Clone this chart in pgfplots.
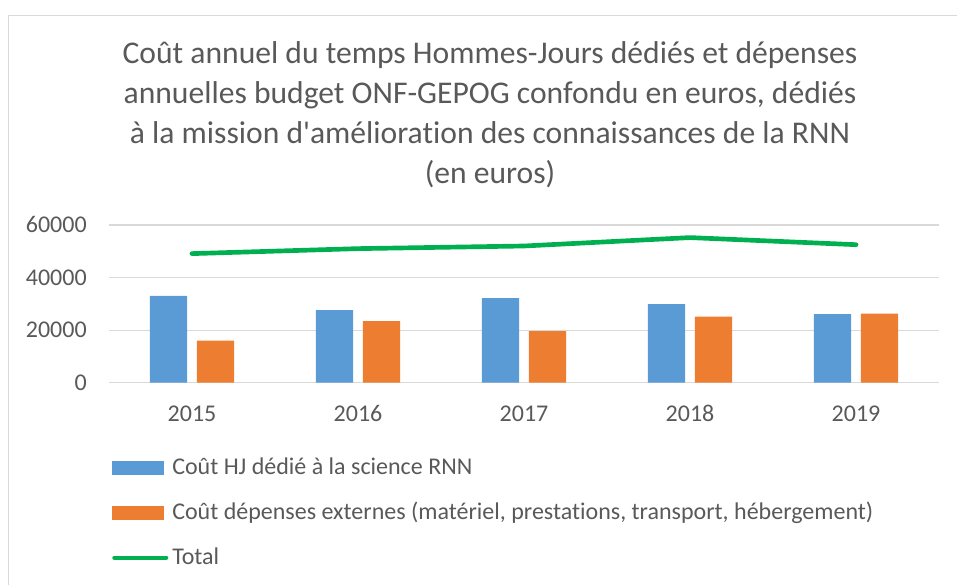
\documentclass[border=0pt]{standalone}
\usepackage{fontspec}
\setmainfont{Carlito}
\newfontfamily\calfont{Carlito}[Ligatures=NoCommon]
\usepackage{pgfplots}
\pgfplotsset{compat=1.18}
\usetikzlibrary{calc}
\definecolor{txt}{HTML}{595959}
\definecolor{gridc}{HTML}{D9D9D9}
\definecolor{blueC}{HTML}{5B9BD5}
\definecolor{orangeC}{HTML}{ED7D31}
\definecolor{greenC}{HTML}{00B050}

\begin{document}
\begin{tikzpicture}[x=0.75pt,y=0.75pt]
\begin{axis}[
  name=ax, at={(0,0)}, anchor=south west,
  scale only axis, width=622.5pt, height=118.3pt,
  xmin=-0.5, xmax=4.5, ymin=0, ymax=60000,
  axis line style={draw=none},
  xtick={0,1,2,3,4}, xticklabels={2015,2016,2017,2018,2019},
  ytick={0,20000,40000,60000},
  ymajorgrids, grid style={gridc, line width=0.9pt},
  major tick length=0pt,
  scaled y ticks=false,
  /pgf/number format/assume math mode=true,
  /pgf/number format/1000 sep={},
  tick label style={font=\calfont\fontsize{18}{20}\selectfont, text=txt, inner sep=0pt},
  xticklabel style={text height=11.6pt, text depth=0pt},
  yticklabel shift=16.5pt,
  xticklabel shift=17pt,
  clip=false,
  legend style={at={(axis description cs:0.0036,-0.48)}, anchor=north west,
    draw=none, fill=none, inner sep=0pt, row sep=17.75pt, column sep=3pt,
    font=\calfont\fontsize{18}{20}\selectfont, text=txt,
    nodes={inner sep=0pt, text height=12pt, text depth=4pt}},
  legend cell align=left,
]
\addplot[ybar, bar width=28pt, bar shift=-17.6pt, fill=blueC, draw=none,
  legend image code/.code={\fill[blueC] (0pt,-3.95pt) rectangle (39pt,6.55pt);}]
  coordinates {(0,33030) (1,27580) (2,32150) (3,29870) (4,26060)};
\addlegendentry{Coût HJ dédié à la science RNN}
\addplot[ybar, bar width=28pt, bar shift=17.6pt, fill=orangeC, draw=none,
  legend image code/.code={\fill[orangeC] (0pt,-3.95pt) rectangle (39pt,6.55pt);}]
  coordinates {(0,16000) (1,23390) (2,19580) (3,25140) (4,26290)};
\addlegendentry{Coût dépenses externes (matériel, prestations, transport, hébergement)}
\addplot[greenC, line width=3.5pt, line cap=round, line join=round, mark=none,
  legend image code/.code={\draw[greenC, line width=3pt, line cap=round] (1.5pt,1.3pt) -- (40.5pt,1.3pt);}]
  coordinates {(0,49100) (1,51000) (2,52000) (3,55200) (4,52500)};
\addlegendentry{Total}
\end{axis}

% page origin (bottom-left corner), in pixels of the reference
\coordinate (O) at ($(ax.south west)+(-109,-202.3)$);

% chart frame (only top and left edges are visible)
\draw[gridc, line width=1.2pt] ($(O)+(8.5,0)$) -- ($(O)+(8.5,569.5)$) -- ($(O)+(957,569.5)$);

% title (anchor base = baseline of the last line)
\node[align=center, anchor=base, text=txt,
      font=\calfont\fontsize{23.7}{30}\selectfont] at ($(O)+(490,401)$)
  {Coût annuel du temps Hommes-Jours dédiés et dépenses\\
   annuelles budget ONF-GEPOG confondu en euros, dédiés\\
   à la mission d'amélioration des connaissances de la RNN\\
   (en euros)};

\pgfresetboundingbox
\path[use as bounding box] (O) rectangle ++(957,585);
\end{tikzpicture}
\end{document}
